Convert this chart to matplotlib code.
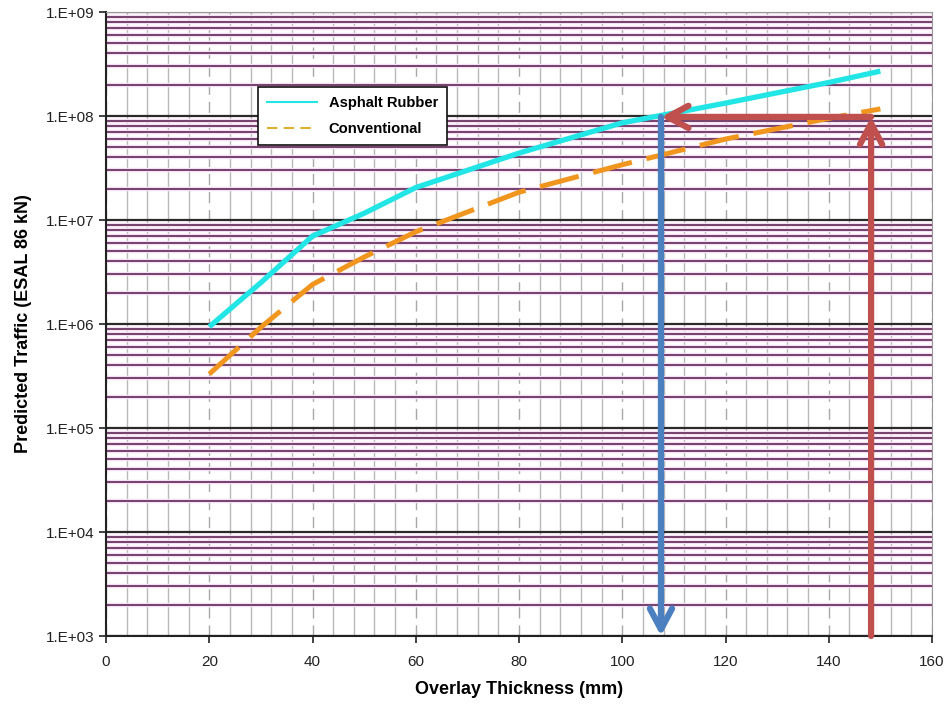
import numpy as np
import matplotlib
matplotlib.use("Agg")
import matplotlib.pyplot as plt
from matplotlib.ticker import FixedLocator, LogLocator, NullFormatter

plt.rcParams['font.family'] = ['Liberation Sans', 'DejaVu Sans']

# data
thickness = [20, 30, 40, 50, 60, 80, 100, 120, 140, 150]
asphalt_rubber = [9.4e5, 2.5e6, 7.0e6, 1.16e7, 2.05e7, 4.4e7, 8.6e7, 1.33e8, 2.1e8, 2.7e8]
conventional = [3.3e5, 9.3e5, 2.4e6, 4.4e6, 7.7e6, 1.85e7, 3.4e7, 6.0e7, 9.5e7, 1.17e8]

# design-chart arrows (thickness in mm, traffic in ESAL)
target_traffic = 9.8e7
ar_thickness = 107.5
conv_thickness = 148.2

x_ticks = [0, 20, 40, 60, 80, 100, 120, 140, 160]
y_ticks = [1e3, 1e4, 1e5, 1e6, 1e7, 1e8, 1e9]
y_labels = ['1.E+03', '1.E+04', '1.E+05', '1.E+06', '1.E+07', '1.E+08', '1.E+09']

fig = plt.figure(figsize=(9.47, 7.05), dpi=100)
ax = fig.add_axes([106 / 947, 1 - 636 / 705, 826 / 947, 624 / 705])
ax.set_yscale('log')
ax.set_xlim(0, 160)
ax.set_ylim(1e3, 1e9)

# grid
ax.set_xticks(x_ticks)
ax.xaxis.set_minor_locator(FixedLocator([v for v in range(0, 161, 4) if v % 20 != 0]))
ax.set_yticks(y_ticks)
ax.set_yticklabels(y_labels)
ax.yaxis.set_minor_locator(LogLocator(base=10, subs=np.arange(2, 10)))
ax.yaxis.set_minor_formatter(NullFormatter())

ax.grid(True, axis='x', which='minor', color='#b8b8b8', lw=1.0)
ax.grid(True, axis='x', which='major', color='#a8a8a8', lw=1.0, ls=(0, (8, 5)))
# purple minor lines with a faint pink halo
ax.grid(True, axis='y', which='minor', color='#f6e0f3', lw=3.2)
for v in y_ticks[:-1]:
    for s in range(2, 10):
        ax.axhline(v * s, color='#6b3563', lw=1.3, zorder=0.6)
ax.grid(True, axis='y', which='major', color='#2a2a2a', lw=1.6)
ax.set_axisbelow(True)

ax.plot(thickness, asphalt_rubber, color='#22e5e5', lw=3.8, label='Asphalt Rubber',
        solid_capstyle='butt', zorder=3)
ax.plot(thickness, conventional, color='#f0961e', lw=3.6, ls=(0, (8, 3)), label='Conventional',
        zorder=3)

# arrows
blue = '#4a7fc0'
red = '#c0504d'
head = '->,head_length=1.5,head_width=0.8'
ax.annotate('', xy=(ar_thickness, 1e3), xytext=(ar_thickness, target_traffic),
            arrowprops=dict(arrowstyle=head, color=blue, lw=4.5, shrinkA=0, shrinkB=0),
            zorder=4)
ax.annotate('', xy=(conv_thickness, target_traffic), xytext=(conv_thickness, 1e3),
            arrowprops=dict(arrowstyle=head, color=red, lw=4.5, shrinkA=0, shrinkB=0),
            zorder=4)
ax.annotate('', xy=(ar_thickness, target_traffic), xytext=(conv_thickness, target_traffic),
            arrowprops=dict(arrowstyle=head, color=red, lw=4.5, shrinkA=0, shrinkB=0),
            zorder=4)

for side in ['top', 'right']:
    ax.spines[side].set_color('#999999')
for side in ['left', 'bottom']:
    ax.spines[side].set_color('#222222')
    ax.spines[side].set_linewidth(1.5)

ax.tick_params(axis='both', which='major', direction='out', length=5, labelsize=11,
               colors='#222222', width=1.2)
ax.tick_params(axis='both', which='minor', length=0)
ax.tick_params(axis='x', pad=9)

ax.set_xlabel('Overlay Thickness (mm)', fontsize=13, fontweight='bold', labelpad=8)
ax.set_ylabel('Predicted Traffic (ESAL 86 kN)', fontsize=13, fontweight='bold', labelpad=10)

ar_handle = plt.Line2D([], [], color='#22e5e5', lw=1.5)
conv_handle = plt.Line2D([], [], color='#e0b030', lw=1.5, ls=(0, (5, 3)))
leg = ax.legend([ar_handle, conv_handle], ['Asphalt Rubber', 'Conventional'],
                loc='upper left', bbox_to_anchor=(152 / 826, 1 - 75 / 624), borderaxespad=0,
                frameon=True, fancybox=False, edgecolor='#111111', framealpha=1,
                prop={'weight': 'bold', 'size': 10.6}, handlelength=3.4, borderpad=0.6,
                labelspacing=0.85)
leg.get_frame().set_linewidth(1.2)

fig.savefig('out.png', dpi=100)
